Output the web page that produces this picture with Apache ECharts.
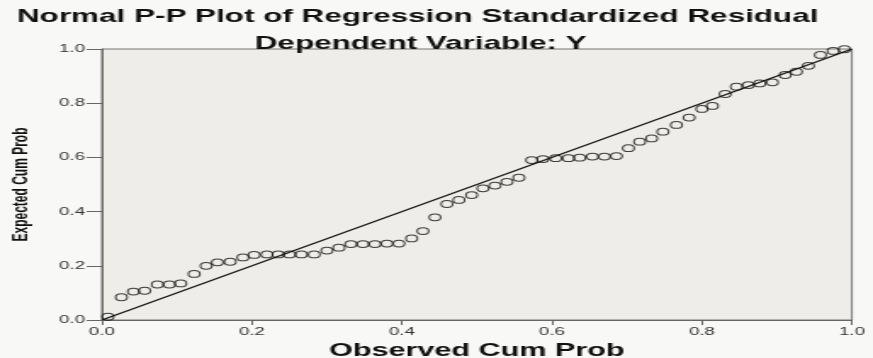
<!DOCTYPE html>
<html>
<head>
<meta charset="utf-8">
<script src="https://cdn.jsdelivr.net/npm/echarts@6/dist/echarts.min.js"></script>
<style>
  html, body { margin: 0; padding: 0; background: #f8f8f6; overflow: hidden; }
  #wrap { width: 873px; height: 358px; overflow: hidden; }
  /* chart is laid out in a narrower box and stretched to the full width */
  #chart { width: 514px; height: 358px; transform: scaleX(1.6984); transform-origin: 0 0; }
</style>
</head>
<body>
<div id="wrap"><div id="chart"></div></div>
<script>
// Observed cumulative probability of each standardized residual
const observedCumProb = [
  0.008, 0.026, 0.042, 0.057, 0.074, 0.090, 0.105, 0.123, 0.139, 0.154,
  0.171, 0.188, 0.203, 0.220, 0.235, 0.250, 0.266, 0.283, 0.300, 0.316,
  0.332, 0.348, 0.364, 0.380, 0.396, 0.413, 0.428, 0.444, 0.460, 0.476,
  0.493, 0.508, 0.524, 0.540, 0.556, 0.573, 0.588, 0.605, 0.622, 0.637,
  0.654, 0.670, 0.686, 0.702, 0.717, 0.733, 0.748, 0.766, 0.783, 0.800,
  0.814, 0.831, 0.846, 0.862, 0.877, 0.894, 0.911, 0.926, 0.942, 0.958,
  0.975, 0.990
];
// Expected cumulative probability under the normal distribution
const expectedCumProb = [
  0.012, 0.084, 0.105, 0.108, 0.131, 0.131, 0.135, 0.170, 0.200, 0.213,
  0.215, 0.231, 0.240, 0.242, 0.242, 0.242, 0.242, 0.242, 0.256, 0.267,
  0.280, 0.280, 0.280, 0.282, 0.282, 0.301, 0.328, 0.379, 0.428, 0.443,
  0.461, 0.486, 0.496, 0.510, 0.525, 0.590, 0.594, 0.597, 0.597, 0.599,
  0.603, 0.603, 0.605, 0.634, 0.658, 0.670, 0.695, 0.720, 0.747, 0.779,
  0.790, 0.834, 0.861, 0.867, 0.873, 0.877, 0.904, 0.916, 0.938, 0.978,
  0.993, 0.999
];
// Diagonal reference line endpoints
const refLineX = [0, 1];
const refLineY = [0, 1];
// Axis ticks
const tickMin = 0.0;
const tickMax = 1.0;
const tickStep = 0.2;

const chartTitle = 'Normal P-P Plot of Regression Standardized Residual';
const chartSubtitle = 'Dependent Variable: Y';
const xName = 'Observed Cum Prob';
const yName = 'Expected Cum Prob';

const points = observedCumProb.map((x, i) => [x, expectedCumProb[i]]);
const diagonal = refLineX.map((x, i) => [x, refLineY[i]]);

const FONT = '"Liberation Sans", Arial, sans-serif';

const chart = echarts.init(document.getElementById('chart'), null, { renderer: 'canvas' });

const axisCommon = {
  type: 'value',
  min: tickMin,
  max: tickMax,
  interval: tickStep,
  splitLine: { show: false },
  axisLine: { show: true, lineStyle: { color: '#666', width: 1 } },
  axisTick: { show: true, lineStyle: { color: '#666', width: 1 } },
  axisLabel: {
    color: '#333',
    fontFamily: FONT,
    fontSize: 11,
    formatter: v => v.toFixed(1)
  },
  nameLocation: 'middle',
  nameTextStyle: { color: '#111', fontFamily: FONT, fontWeight: 'bold' }
};

chart.setOption({
  backgroundColor: '#f8f8f6',
  animation: false,
  title: [
    {
      text: chartTitle,
      left: 10, top: 7, padding: 0,
      textStyle: { fontFamily: FONT, fontWeight: 'bold', fontSize: 18.5, color: '#111' }
    },
    {
      text: chartSubtitle,
      left: 150, top: 34, padding: 0,
      textStyle: { fontFamily: FONT, fontWeight: 'bold', fontSize: 18.5, color: '#111' }
    }
  ],
  grid: {
    left: 60, right: 12.4, top: 49, bottom: 38,
    containLabel: false,
    outerBoundsMode: 'none',
    show: true,
    backgroundColor: '#eeede9',
    borderColor: '#777',
    borderWidth: 1
  },
  xAxis: Object.assign({}, axisCommon, {
    name: xName,
    nameGap: 16,
    axisTick: { show: true, length: 5, lineStyle: { color: '#666' } },
    axisLabel: Object.assign({}, axisCommon.axisLabel, { margin: 6 }),
    nameTextStyle: Object.assign({}, axisCommon.nameTextStyle, { fontSize: 18 })
  }),
  yAxis: Object.assign({}, axisCommon, {
    name: yName,
    nameGap: 41,
    axisTick: { show: true, length: 9, lineStyle: { color: '#666' } },
    axisLabel: Object.assign({}, axisCommon.axisLabel, { margin: 10 }),
    nameTextStyle: Object.assign({}, axisCommon.nameTextStyle, { fontSize: 12, fontWeight: 'bold' })
  }),
  series: [
    {
      type: 'line',
      data: diagonal,
      symbol: 'none',
      lineStyle: { color: '#111', width: 1.2 },
      z: 2
    },
    {
      type: 'scatter',
      data: points,
      symbol: 'circle',
      symbolSize: 6.8,
      itemStyle: { color: 'rgba(0,0,0,0)', borderColor: '#111', borderWidth: 1 },
      z: 3
    }
  ]
});
</script>
</body>
</html>
